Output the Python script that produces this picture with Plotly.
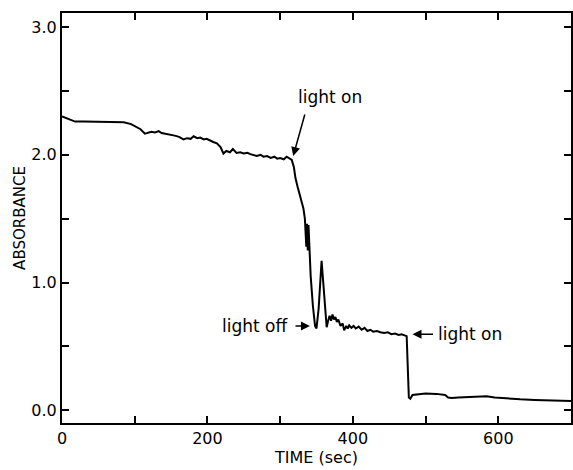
import plotly.graph_objects as go

time_sec = [0, 5, 12, 18, 30, 45, 60, 75, 85, 95, 102, 108, 114, 119, 123, 128, 133, 137, 142, 148,
            155, 161, 167, 172, 177, 181, 186, 190, 195, 199, 204, 208, 213, 218, 222, 226, 231, 235,
            240, 245, 250, 255, 259, 264, 268, 273, 277, 282, 287, 292, 296, 300, 305, 309, 313, 316,
            319, 321, 324, 327, 330, 332, 334, 336, 337, 338, 339, 340, 342, 345, 348, 350, 353, 357,
            360, 364, 366, 368, 370, 372, 374, 376, 378, 380, 383, 386, 388, 391, 393, 395, 398, 401,
            404, 408, 412, 416, 420, 424, 428, 433, 438, 443, 448, 453, 458, 463, 467, 471, 474, 477,
            479, 482, 488, 500, 515, 522, 527, 531, 536, 545, 560, 575, 584, 595, 612, 630, 650, 670,
            685, 700]
absorbance = [2.30, 2.29, 2.27, 2.26, 2.26, 2.26, 2.255, 2.255, 2.255, 2.24, 2.22, 2.20, 2.165, 2.17,
              2.18, 2.175, 2.185, 2.17, 2.165, 2.16, 2.15, 2.14, 2.12, 2.13, 2.125, 2.145, 2.13, 2.135,
              2.12, 2.125, 2.11, 2.10, 2.09, 2.06, 2.01, 2.03, 2.02, 2.045, 2.015, 2.02, 2.01, 2.015,
              2.005, 2.00, 1.99, 2.00, 1.985, 1.99, 1.975, 1.985, 1.97, 1.975, 1.965, 1.985, 1.97, 1.96,
              1.90, 1.82, 1.75, 1.68, 1.62, 1.58, 1.50, 1.28, 1.46, 1.25, 1.45, 1.30, 1.05, 0.82, 0.66,
              0.64, 0.80, 1.17, 0.92, 0.65, 0.70, 0.74, 0.70, 0.75, 0.71, 0.73, 0.69, 0.71, 0.66, 0.68,
              0.625, 0.66, 0.64, 0.665, 0.645, 0.66, 0.64, 0.655, 0.63, 0.645, 0.62, 0.63, 0.615, 0.62,
              0.61, 0.605, 0.61, 0.595, 0.60, 0.59, 0.595, 0.585, 0.58, 0.10, 0.09, 0.12, 0.125, 0.13,
              0.128, 0.125, 0.12, 0.10, 0.095, 0.10, 0.105, 0.11, 0.11, 0.10, 0.09, 0.085, 0.08, 0.075,
              0.075, 0.072]

x_tickvals = [0, 100, 200, 300, 400, 500, 600, 700]
x_ticktext = ["0", "", "200", "", "400", "", "600", ""]
y_tickvals = [0.0, 0.5, 1.0, 1.5, 2.0, 2.5, 3.0]
y_ticktext = ["0.0", "", "1.0", "", "2.0", "", "3.0"]

FONT = "DejaVu Sans"

fig = go.Figure()
fig.add_trace(go.Scatter(x=time_sec, y=absorbance, mode="lines",
                         line=dict(color="black", width=2), showlegend=False))

axis_common = dict(showgrid=False, zeroline=False, showline=True, linecolor="black", linewidth=2,
                   mirror="ticks", ticks="inside", ticklen=7, tickwidth=1.5, tickcolor="black",
                   automargin=False,
                   tickfont=dict(family=FONT, size=16, color="black"))

fig.update_xaxes(range=[0, 700], tickvals=x_tickvals, ticktext=x_ticktext,
                 title=dict(text="TIME (sec)", font=dict(family=FONT, size=16, color="black"), standoff=0),
                 **axis_common)
fig.update_yaxes(range=[-0.10, 3.11], tickvals=y_tickvals, ticktext=y_ticktext,
                 title=dict(text="ABSORBANCE", font=dict(family=FONT, size=15, color="black"), standoff=2),
                 **axis_common)

ann_font = dict(family=FONT, size=17, color="black")
# arrows
fig.add_annotation(x=318, y=1.99, ax=12, ay=-43, text="", showarrow=True, arrowhead=2,
                   arrowsize=1.2, arrowwidth=1.5, arrowcolor="black")
fig.add_annotation(x=341, y=0.66, ax=-16, ay=0, text="", showarrow=True, arrowhead=2,
                   arrowsize=1.2, arrowwidth=1.5, arrowcolor="black")
fig.add_annotation(x=482, y=0.595, ax=22, ay=0, text="", showarrow=True, arrowhead=2,
                   arrowsize=1.2, arrowwidth=1.5, arrowcolor="black")
# labels
fig.add_annotation(x=368, y=2.45, text="light on", showarrow=False, font=ann_font)
fig.add_annotation(x=314, y=0.66, text="light off", showarrow=False, font=ann_font,
                   xanchor="right")
fig.add_annotation(x=515, y=0.595, text="light on", showarrow=False, font=ann_font,
                   xanchor="left")

fig.update_layout(width=573, height=470, margin=dict(l=62, r=2, t=13, b=47),
                  paper_bgcolor="white", plot_bgcolor="white",
                  font=dict(family=FONT, color="black"))

fig.write_html("out.html", config={"displayModeBar": False},
               post_script="document.body.style.margin='0';document.body.style.overflow='hidden';")
